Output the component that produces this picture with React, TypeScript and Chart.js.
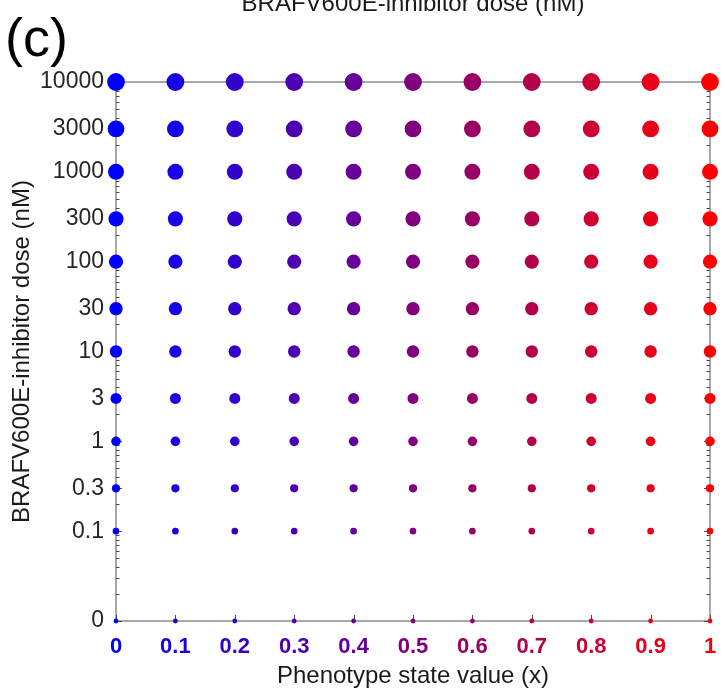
import React, { useEffect, useRef } from "react";
import { Chart, registerables } from "chart.js";

Chart.register(...registerables);

// ---- data ----
const phenotypeValues = [0, 0.1, 0.2, 0.3, 0.4, 0.5, 0.6, 0.7, 0.8, 0.9, 1];
const xTickLabels = ["0", "0.1", "0.2", "0.3", "0.4", "0.5", "0.6", "0.7", "0.8", "0.9", "1"];
const doseValues = [0, 0.1, 0.3, 1, 3, 10, 30, 100, 300, 1000, 3000, 10000];
const doseLabels = ["0", "0.1", "0.3", "1", "3", "10", "30", "100", "300", "1000", "3000", "10000"];
const markerRadius = [2.4, 3.3, 4.1, 4.8, 5.5, 6.2, 6.7, 7.1, 7.6, 8.0, 8.4, 8.9];

const ZERO_POS = -2; // dose 0 is drawn one decade below 0.1
const doseToPos = (d: number) => (d === 0 ? ZERO_POS : Math.log10(d));
const colorFor = (x: number) =>
  `rgb(${Math.round(255 * x)},0,${Math.round(255 * (1 - x))})`;

const FONT = "'Liberation Sans', Arial, Helvetica, sans-serif";

const decorPlugin = {
  id: "decor",
  beforeDatasetsDraw(chart: any) {
    const { ctx, chartArea } = chart;
    const xs = chart.scales.x;
    const ys = chart.scales.y;
    const { left, right, top, bottom } = chartArea;
    ctx.save();
    // frame
    ctx.strokeStyle = "#8c8c8c";
    ctx.lineWidth = 1.5;
    ctx.strokeRect(left, top, right - left, bottom - top);
    // ticks
    ctx.strokeStyle = "#4a4a4a";
    ctx.lineWidth = 1;
    const yTick = (pos: number, len: number) => {
      const py = Math.round(ys.getPixelForValue(pos)) + 0.5;
      ctx.beginPath();
      ctx.moveTo(left, py);
      ctx.lineTo(left + len, py);
      ctx.moveTo(right, py);
      ctx.lineTo(right - len, py);
      ctx.stroke();
    };
    for (let k = -2; k <= 3; k++) {
      for (let m = 2; m <= 9; m++) {
        yTick(k + Math.log10(m), 3.5);
      }
    }
    doseValues.forEach((d) => yTick(doseToPos(d), 6));
    phenotypeValues.forEach((v) => {
      const px = Math.round(xs.getPixelForValue(v)) + 0.5;
      ctx.beginPath();
      ctx.moveTo(px, bottom);
      ctx.lineTo(px, bottom - 6);
      ctx.moveTo(px, top);
      ctx.lineTo(px, top + 6);
      ctx.stroke();
    });
    ctx.restore();
  },
  afterDraw(chart: any) {
    const { ctx, chartArea } = chart;
    ctx.save();
    ctx.fillStyle = "#1a1a1a";
    ctx.font = `24px ${FONT}`;
    ctx.textAlign = "center";
    ctx.textBaseline = "alphabetic";
    ctx.fillText("BRAFV600E-inhibitor dose (nM)", (chartArea.left + chartArea.right) / 2, 11);
    ctx.font = `54px ${FONT}`;
    ctx.textAlign = "left";
    ctx.fillStyle = "#000";
    ctx.fillText("(c)", 5, 56);
    ctx.restore();
  },
};

const zeroPad = (s: any) => {
  s.paddingLeft = 0;
  s.paddingRight = 0;
  s.paddingTop = 0;
  s.paddingBottom = 0;
};

export default function App() {
  const canvasRef = useRef<HTMLCanvasElement | null>(null);

  useEffect(() => {
    document.body.style.margin = "0";
    const canvas = canvasRef.current;
    if (!canvas) return;
    const datasets = phenotypeValues.map((x) => ({
      label: `x=${x}`,
      data: doseValues.map((d) => ({ x, y: doseToPos(d) })),
      pointRadius: markerRadius,
      pointHoverRadius: markerRadius,
      pointBackgroundColor: colorFor(x),
      pointBorderWidth: 0,
      borderColor: colorFor(x),
      showLine: false,
      clip: false as any,
    }));
    const chart = new Chart(canvas, {
      type: "scatter",
      data: { datasets },
      options: {
        animation: false,
        responsive: false,
        devicePixelRatio: 1,
        layout: { padding: { top: 82, right: 15, left: 0, bottom: 0 } },
        plugins: {
          legend: { display: false },
          tooltip: { enabled: false },
        },
        scales: {
          x: {
            type: "linear",
            min: 0,
            max: 1,
            afterBuildTicks: (s: any) => {
              s.ticks = phenotypeValues.map((v) => ({ value: v }));
            },
            afterFit: (s: any) => {
              s.height = 67;
              zeroPad(s);
            },
            grid: { display: false, drawTicks: false },
            border: { display: false },
            ticks: {
              autoSkip: false,
              maxRotation: 0,
              padding: 13,
              font: { family: FONT, size: 22, weight: "bold" },
              color: (c: any) => colorFor(phenotypeValues[c.index] ?? 0),
              callback: (_v: any, i: number) => xTickLabels[i],
            },
            title: {
              display: true,
              text: "Phenotype state value (x)",
              color: "#1a1a1a",
              font: { family: FONT, size: 24 },
              padding: { top: 0, bottom: -3 },
            },
          },
          y: {
            type: "linear",
            min: ZERO_POS,
            max: 4,
            afterBuildTicks: (s: any) => {
              s.ticks = doseValues.map((d) => ({ value: doseToPos(d) }));
            },
            afterFit: (s: any) => {
              s.width = 116;
              zeroPad(s);
            },
            grid: { display: false, drawTicks: false },
            border: { display: false },
            ticks: {
              autoSkip: false,
              padding: 12,
              font: { family: FONT, size: 23 },
              color: "#262626",
              callback: (_v: any, i: number) => doseLabels[i],
            },
            title: {
              display: true,
              text: "BRAFV600E-inhibitor dose (nM)",
              color: "#1a1a1a",
              font: { family: FONT, size: 24 },
              padding: { top: 8, bottom: 0 },
            },
          },
        },
      },
      plugins: [decorPlugin],
    });
    return () => chart.destroy();
  }, []);

  return (
    <div style={{ width: 725, height: 688, background: "#fff" }}>
      <canvas ref={canvasRef} width={725} height={688} />
    </div>
  );
}
